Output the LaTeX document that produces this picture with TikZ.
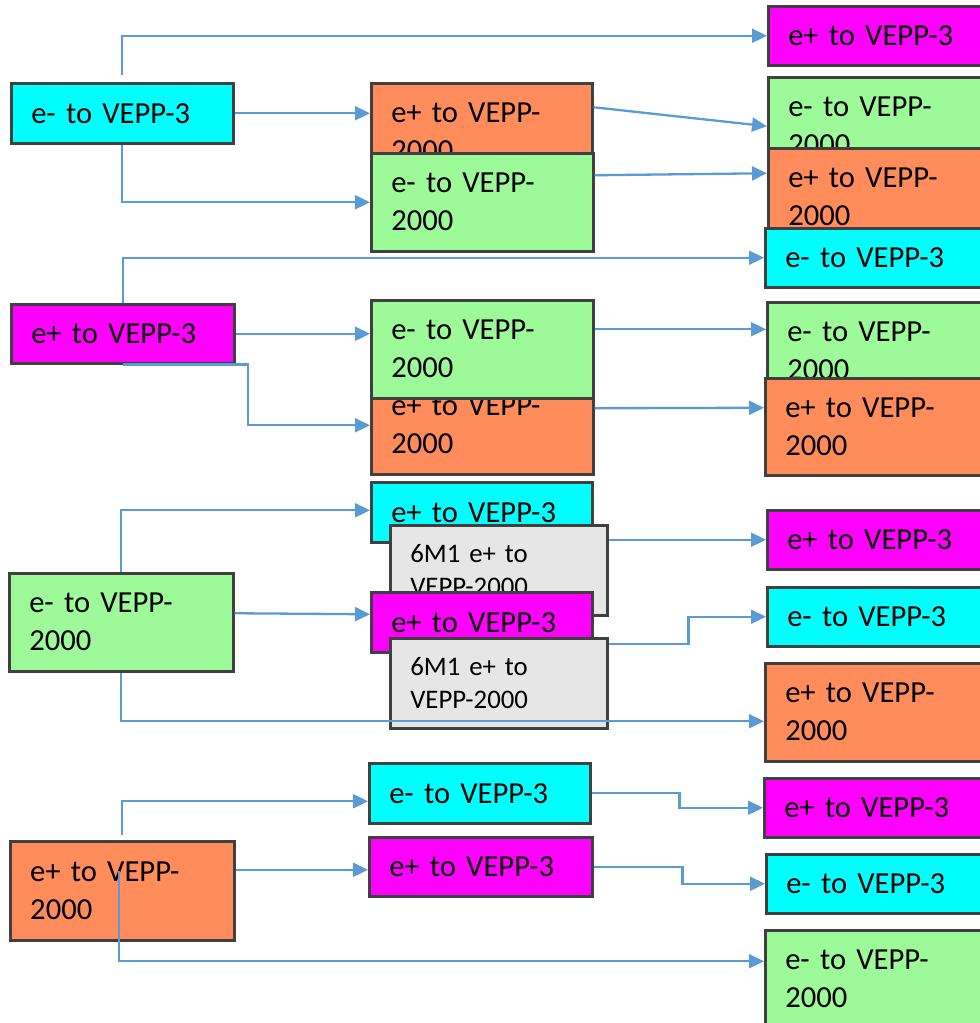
\documentclass[tikz,border=0pt]{standalone}
\usepackage{fontspec}
\setmainfont{Carlito}
\usetikzlibrary{arrows.meta}
\definecolor{cy}{HTML}{00FFFF}
\definecolor{mg}{HTML}{FF00FF}
\definecolor{gr}{HTML}{9CFA98}
\definecolor{og}{HTML}{FF8C5A}
\definecolor{gy}{HTML}{E6E6E6}
\definecolor{bd}{HTML}{404040}
\definecolor{arrc}{HTML}{5B9BD5}
\newcommand\bigf{\fontsize{30.6}{38}\selectfont}
\newcommand\smf{\fontsize{26.8}{33}\selectfont}
\begin{document}
\begin{tikzpicture}[x=1pt,y=-1pt,
  box/.style={draw=bd, line width=2.5pt, anchor=north west, inner xsep=20pt, inner ysep=0pt, align=left, font=\bigf, text=black},
  gbox/.style={box, fill=gy, font=\smf},
  arr/.style={draw=arrc, line width=2.3pt, -{Triangle[length=15pt,width=14pt]}}]
\useasboundingbox (0,0) rectangle (980,1023);
\clip (0,0) rectangle (980,1023);
% left column
\node[box,fill=cy,text width=182,minimum height=60] (L1) at (10,82) {e- to VEPP-3};
\node[box,fill=mg,text width=183,minimum height=59] (L2) at (10,303) {e+ to VEPP-3};
\node[box,fill=gr,text width=184,minimum height=98] (L3) at (8,572) {e- to VEPP-\\2000};
\node[box,fill=og,text width=184,minimum height=99] (L4) at (9,840) {e+ to VEPP-\\2000};
% middle column
\node[box,fill=og,text width=181,minimum height=98] (M1) at (370,82) {e+ to VEPP-\\2000};
\node[box,fill=gr,text width=182,minimum height=98] (M2) at (370,152) {e- to VEPP-\\2000};
\node[box,fill=og,text width=182,minimum height=98] (M4) at (370,375) {e+ to VEPP-\\2000};
\node[box,fill=gr,text width=182,minimum height=98] (M3) at (370,299) {e- to VEPP-\\2000};
\node[box,fill=cy,text width=181,minimum height=60] (M5) at (370,481) {e+ to VEPP-3};
\node[gbox,text width=177,minimum height=90] (M6) at (389,524) {6M1 e+ to\\VEPP-2000};
\node[box,fill=mg,text width=181,minimum height=60] (M7) at (370,591) {e+ to VEPP-3};
\node[gbox,text width=177,minimum height=90] (M8) at (389,637) {6M1 e+ to\\VEPP-2000};
\node[box,fill=cy,text width=181,minimum height=60] (M9) at (368,762) {e- to VEPP-3};
\node[box,fill=mg,text width=183,minimum height=59] (M10) at (368,836) {e+ to VEPP-3};
% right column
\node[box,fill=mg,text width=190,minimum height=59] (R1) at (767,5) {e+ to VEPP-3};
\node[box,fill=gr,text width=190,minimum height=98] (R2) at (767,76) {e- to VEPP-\\2000};
\node[box,fill=og,text width=190,minimum height=98] (R3) at (767,147) {e+ to VEPP-\\2000};
\node[box,fill=cy,text width=190,minimum height=59] (R4) at (764,227) {e- to VEPP-3};
\node[box,fill=gr,text width=190,minimum height=98] (R5) at (766,301) {e- to VEPP-\\2000};
\node[box,fill=og,text width=190,minimum height=97] (R6) at (764,377) {e+ to VEPP-\\2000};
\node[box,fill=mg,text width=190,minimum height=59] (R7) at (766,509) {e+ to VEPP-3};
\node[box,fill=cy,text width=190,minimum height=59] (R8) at (766,586) {e- to VEPP-3};
\node[box,fill=og,text width=190,minimum height=98] (R9) at (764,662) {e+ to VEPP-\\2000};
\node[box,fill=mg,text width=190,minimum height=59] (R10) at (763,777) {e+ to VEPP-3};
\node[box,fill=cy,text width=190,minimum height=59] (R11) at (765,853) {e- to VEPP-3};
\node[box,fill=gr,text width=190,minimum height=98] (R12) at (764,929) {e- to VEPP-\\2000};
% connectors
\draw[arr] ([yshift=7pt]L1.north) |- (R1.west);
\draw[arr] (L1.east) -- (L1.east -| M1.west);
\draw[arr] (L1.south) |- (M2.west);
\draw[arr] ([yshift=25pt]M1.east) -- (R2.west);
\draw[arr] ([yshift=27pt]M2.east) -- ([yshift=24pt]R3.west);
\draw[arr] (L2.north) |- (R4.west);
\draw[arr] (L2.east) -- (L2.east -| M3.west);
\draw[arr] (L2.south) -- ++(125,0) |- (M4.west);
\draw[arr] ([yshift=20pt]M3.east) -- ([yshift=22pt]R5.west);
\draw[arr] ([yshift=17pt]M4.east) -- ([yshift=19pt]R6.west);
\draw[arr] (L3.north) |- ([yshift=2pt]M5.west);
\draw[arr] ([yshift=9pt]L3.east) -- ([yshift=8pt]M7.west);
\draw[arr] (L3.south) |- ([yshift=-9pt]R9.west);
\draw[arr] (M6.east |- R7.west) -- (R7.west);
\draw[arr] ([yshift=39pt]M8.east) -- ++(80,0) |- (R8.west);
\draw[arr] ([yshift=5pt]L4.north) |- ([yshift=-8pt]M9.west);
\draw[arr] ([yshift=21pt]L4.east) -- ([yshift=21pt]L4.east -| M10.west);
\draw[arr] ([xshift=-3pt,yshift=20pt]L4.center) |- ([yshift=18pt]R12.west);
\draw[arr] (M9.east) -- ++(88,0) |- (R10.west);
\draw[arr] (M10.east) -- ++(89,0) |- (R11.west);
\end{tikzpicture}
\end{document}
